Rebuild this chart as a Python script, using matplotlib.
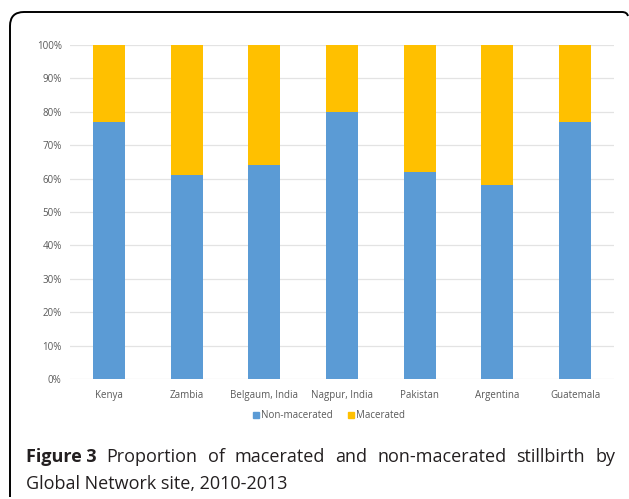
import matplotlib
matplotlib.use("Agg")
import matplotlib.pyplot as plt
from matplotlib.path import Path
from matplotlib.patches import PathPatch, Rectangle
import numpy as np

# Stillbirth share by site (percent)
sites = ["Kenya", "Zambia", "Belgaum, India", "Nagpur, India", "Pakistan", "Argentina", "Guatemala"]
non_macerated = [77, 61, 64, 80, 62, 58, 77]
macerated = [23, 39, 36, 20, 38, 42, 23]
series_names = ["Non-macerated", "Macerated"]
y_ticks = [0, 10, 20, 30, 40, 50, 60, 70, 80, 90, 100]

BLUE = "#5b9bd5"
GOLD = "#ffc000"
TICK_GREY = "#595959"

W, H = 629, 499
fig = plt.figure(figsize=(W / 100, H / 100), dpi=100)

def fx(px):
    return px / W

def fy(py):
    return 1 - py / H

ax = fig.add_axes([fx(70), fy(379), fx(614) - fx(70), fy(45) - fy(379)])
x = np.arange(len(sites))
ax.bar(x, non_macerated, width=0.41, color=BLUE, zorder=3, label=series_names[0])
ax.bar(x, macerated, width=0.41, bottom=non_macerated, color=GOLD, zorder=3, label=series_names[1])

ax.set_xlim(-0.5, len(sites) - 0.5)
ax.set_ylim(0, 100)
ax.set_yticks(y_ticks)
ax.set_yticklabels([f"{t}%" for t in y_ticks])
ax.set_xticks(x)
ax.set_xticklabels(sites)
ax.yaxis.grid(True, color="#e3e3e3", linewidth=0.9, zorder=0)
for s in ax.spines.values():
    s.set_visible(False)
ax.tick_params(length=0, labelsize=7, labelcolor=TICK_GREY, pad=8)
ax.tick_params(axis="y", pad=6)
for lbl in ax.get_xticklabels() + ax.get_yticklabels():
    lbl.set_family("Open Sans")

# legend squares and labels
fig.patches.append(Rectangle((fx(253), fy(418)), 6 / W, 6 / H, color=BLUE, transform=fig.transFigure))
fig.text(fx(261), fy(415), series_names[0], fontsize=7, color=TICK_GREY, va="center", family="Open Sans")
fig.patches.append(Rectangle((fx(348), fy(418)), 6 / W, 6 / H, color=GOLD, transform=fig.transFigure))
fig.text(fx(356), fy(415), series_names[1], fontsize=7, color=TICK_GREY, va="center", family="Open Sans")

# frame: left edge and top with rounded corners
verts = [(fx(10), fy(497)), (fx(10), fy(26)), (fx(10), fy(12)), (fx(24), fy(12)),
         (fx(622), fy(12)), (fx(627), fy(12)), (fx(628), fy(16))]
codes = [Path.MOVETO, Path.LINETO, Path.CURVE3, Path.CURVE3, Path.LINETO, Path.CURVE3, Path.CURVE3]
fig.patches.append(PathPatch(Path(verts, codes), fill=False, edgecolor="black", linewidth=1.4,
                             transform=fig.transFigure))

# caption, first line justified
fig.canvas.draw()
renderer = fig.canvas.get_renderer()
line1 = [("Figure 3", "bold")] + [(w, "normal") for w in
         "Proportion of macerated and non-macerated stillbirth by".split()]
left, right = 26, 615
items = []
for word, weight in line1:
    t = fig.text(0, fy(462), word, fontsize=13, fontweight=weight, family="Open Sans",
                 color="#231f20", va="baseline")
    items.append(t)
widths = [t.get_window_extent(renderer).width for t in items]
gap = (right - left - sum(widths)) / (len(items) - 1)
pos = left
for t, w in zip(items, widths):
    t.set_x(fx(pos))
    pos += w + gap
fig.text(fx(26), fy(489), "Global Network site, 2010-2013", fontsize=13, family="Open Sans",
         color="#231f20", va="baseline")

fig.savefig("out.png", dpi=100)
